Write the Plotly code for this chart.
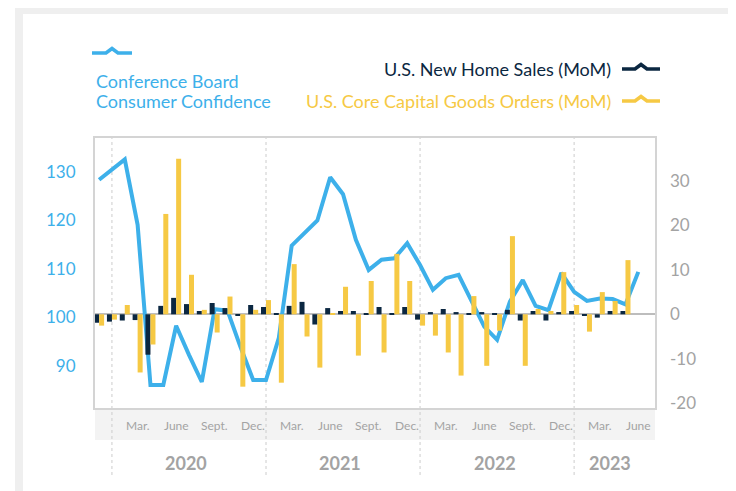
import plotly.graph_objects as go

# ---------------- data ----------------
months = ["Dec 2019",
          "Jan 2020", "Feb 2020", "Mar 2020", "Apr 2020", "May 2020", "Jun 2020",
          "Jul 2020", "Aug 2020", "Sep 2020", "Oct 2020", "Nov 2020", "Dec 2020",
          "Jan 2021", "Feb 2021", "Mar 2021", "Apr 2021", "May 2021", "Jun 2021",
          "Jul 2021", "Aug 2021", "Sep 2021", "Oct 2021", "Nov 2021", "Dec 2021",
          "Jan 2022", "Feb 2022", "Mar 2022", "Apr 2022", "May 2022", "Jun 2022",
          "Jul 2022", "Aug 2022", "Sep 2022", "Oct 2022", "Nov 2022", "Dec 2022",
          "Jan 2023", "Feb 2023", "Mar 2023", "Apr 2023", "May 2023", "Jun 2023"]

consumer_confidence = [128.4, 130.5, 132.6, 119.1, 86.1, 86.1, 98.3, 92.3, 86.7, 101.7,
                       101.4, 94.0, 87.1, 87.1, 95.8, 114.8, 117.4, 120.0, 128.9, 125.4,
                       116.0, 109.8, 111.9, 112.2, 115.3, 110.8, 105.7, 108.1, 108.8, 103.3,
                       98.1, 95.4, 103.3, 107.7, 102.4, 101.5, 109.2, 105.3, 103.4, 103.9,
                       103.8, 102.7, 109.4]

new_home_sales = [-1.9, -1.65, -1.4, -1.3, -9.1, 1.9, 3.7, 2.3, 0.75, 2.55,
                  1.4, -0.2, 2.1, 1.65, 0.3, 1.9, 2.8, -2.3, 1.4, 0.75,
                  0.75, 0.3, 1.65, 0.3, 1.65, -1.2, 0.5, 1.2, 0.5, 0.3,
                  0.5, 0.3, 1.0, -1.4, 0.75, -1.4, 0.5, 0.75, -0.3, -0.75,
                  0.75, 0.75]

core_capital_goods = [-2.55, -1.2, 2.1, -13.1, -6.8, 22.6, 35.0, 8.9, 1.0, -4.1,
                      4.0, -16.3, 1.0, 3.2, -15.4, 11.3, -5.0, -12.0, 0.3, 6.2,
                      -9.3, 7.5, -8.6, 13.6, 7.5, -2.55, -4.8, -8.6, -13.8, 4.1,
                      -11.6, -3.7, 17.6, -11.6, 1.2, 0.75, 9.5, 2.1, -3.9, 5.0,
                      3.0, 12.2]

left_ticks = [90, 100, 110, 120, 130]
right_ticks = [-20, -10, 0, 10, 20, 30]
right_tick_labels = ["-20", "-10", "0", "10", "20", "30"]
year_labels = ["2020", "2021", "2022", "2023"]

# ---------------- styling ----------------
BLUE = "#3db0ea"
NAVY = "#0b2741"
YELLOW = "#f6c944"
GRAY_TXT = "#a3a3a3"
FRAME = "#efefef"
FONT = "Lato"

OFF = 8  # default page body margin
W, H = 736 - OFF, 491 - OFF
# plot area in page pixels
PL, PR, PT, PB = 95, 655, 138, 408
L, T = PL - OFF, PT - OFF
R, B = W - (PR - OFF), H - (PB - OFF)
PW, PH = PR - PL, PB - PT


def px(x):
    return (x - PL) / PW


def py(y):
    return (PB - y) / PH


x_line = list(range(len(consumer_confidence)))
x_bar = list(range(len(new_home_sales)))

fig = go.Figure()
fig.add_trace(go.Bar(x=x_bar, y=new_home_sales, marker_color=NAVY, marker_line_width=0,
                     yaxis="y2", name="U.S. New Home Sales (MoM)"))
fig.add_trace(go.Bar(x=x_bar, y=core_capital_goods, marker_color=YELLOW, marker_line_width=0,
                     yaxis="y2", name="U.S. Core Capital Goods Orders (MoM)"))
fig.add_trace(go.Scatter(x=x_line, y=consumer_confidence, mode="lines",
                         line=dict(color=BLUE, width=4), yaxis="y",
                         name="Conference Board Consumer Confidence"))

shapes = []


def frame_rect(x0, x1, y0, y1):
    return dict(type="rect", xref="paper", yref="paper",
                x0=px(x0), x1=px(x1), y0=py(y0), y1=py(y1),
                line=dict(width=0), fillcolor=FRAME, layer="below")


# outer gray frame strips (top, left, right)
shapes.append(frame_rect(15, 760, 0, 14))
shapes.append(frame_rect(15, 23, 0, 520))
shapes.append(frame_rect(730, 760, 0, 520))
# gray band under plot for month labels
shapes.append(dict(type="rect", xref="paper", yref="paper",
                   x0=0, x1=1, y0=py(440), y1=0,
                   line=dict(width=0), fillcolor="#f3f3f3", layer="below"))
# year dividers (January of each year)
for i, m in enumerate(months):
    if m.startswith("Jan"):
        shapes.append(dict(type="line", xref="x", yref="paper", x0=i, x1=i,
                           y0=py(475), y1=1, line=dict(color="#cccccc", width=1, dash="dot"),
                           layer="below"))


def icon(x0, x1, y, color):
    xm = (x0 + x1) / 2
    pts = [(x0, y), (xm - 6, y), (xm, y - 4.5), (xm + 6, y), (x1, y)]
    path = "M " + " L ".join(f"{px(a):.5f},{py(b):.5f}" for a, b in pts)
    return dict(type="path", xref="paper", yref="paper", path=path,
                line=dict(color=color, width=3.5))


shapes.append(icon(92, 132, 53, BLUE))
shapes.append(icon(622, 660, 69, NAVY))
shapes.append(icon(622, 660, 101, YELLOW))

annotations = [
    dict(text="Conference Board", x=px(94), y=py(81), xref="paper", yref="paper",
         xanchor="left", yanchor="middle", showarrow=False,
         font=dict(family=FONT, size=18, color=BLUE)),
    dict(text="Consumer Confidence", x=px(94), y=py(101), xref="paper", yref="paper",
         xanchor="left", yanchor="middle", showarrow=False,
         font=dict(family=FONT, size=18, color=BLUE)),
    dict(text="U.S. New Home Sales (MoM)", x=px(613), y=py(69), xref="paper", yref="paper",
         xanchor="right", yanchor="middle", showarrow=False,
         font=dict(family=FONT, size=18, color=NAVY)),
    dict(text="U.S. Core Capital Goods Orders (MoM)", x=px(613), y=py(101), xref="paper",
         yref="paper", xanchor="right", yanchor="middle", showarrow=False,
         font=dict(family=FONT, size=18, color=YELLOW)),
]

# month labels (Mar., June, Sept., Dec.)
month_map = {"Mar": "Mar.", "Jun": "June", "Sep": "Sept.", "Dec": "Dec."}
for i, m in enumerate(months):
    mon, yr = m.split()
    if mon in month_map and i > 0:
        annotations.append(dict(text=month_map[mon], x=i, y=py(425), xref="x", yref="paper",
                                xanchor="center", yanchor="middle", showarrow=False,
                                font=dict(family=FONT, size=12, color=GRAY_TXT)))

# year labels, centred on the months of each year present
for yl in year_labels:
    idx = [i for i, m in enumerate(months) if m.endswith(yl)]
    center = (idx[0] + idx[-1]) / 2 + 0.3
    annotations.append(dict(text=f"<b>{yl}</b>", x=center, y=py(463), xref="x", yref="paper",
                            xanchor="center", yanchor="middle", showarrow=False,
                            font=dict(family=FONT, size=18, color="#a3a3a3")))

fig.update_layout(
    width=W, height=H,
    margin=dict(l=L, r=R, t=T, b=B),
    paper_bgcolor="white", plot_bgcolor="white",
    showlegend=False,
    barmode="group", bargap=0.22, bargroupgap=0,
    shapes=shapes, annotations=annotations,
    xaxis=dict(range=[-0.32, 43.3], showticklabels=False, ticks="", showgrid=False,
               zeroline=False, showline=True, linecolor="#d4d4d4", linewidth=2, mirror=True),
    yaxis=dict(range=[81.34, 137.0], tickvals=left_ticks, showgrid=False, zeroline=False,
               ticks="", ticklabelstandoff=14,
               tickfont=dict(family=FONT, size=17, color=BLUE),
               showline=True, linecolor="#d4d4d4", linewidth=2, mirror=True),
    yaxis2=dict(range=[-21.1, 39.7], tickvals=right_ticks, ticktext=right_tick_labels,
                overlaying="y", side="right",
                showgrid=False, zeroline=True, zerolinecolor="#bdbdbd", zerolinewidth=1.5,
                ticks="", ticklabelstandoff=14,
                tickfont=dict(family=FONT, size=17, color=GRAY_TXT)),
)

fig.write_html("out.html")
